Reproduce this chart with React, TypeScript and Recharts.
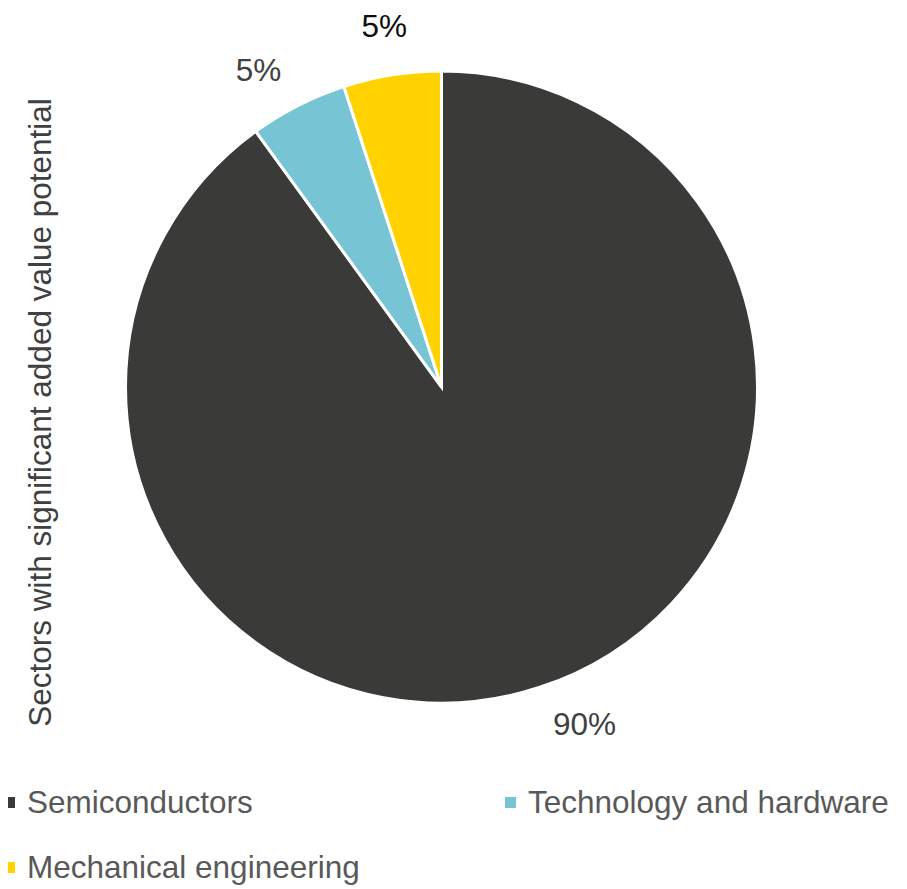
import React from "react";
import { PieChart, Pie, Cell, Legend } from "recharts";

const categories = ["Semiconductors", "Technology and hardware", "Mechanical engineering"];
const shares = [90, 5, 5];
const percentLabels = ["90%", "5%", "5%"];
const colors = ["#3a3b38", "#77c5d4", "#ffd200"];
const labelColors = ["#404040", "#404040", "#0d0d0d"];
const axisTitle = "Sectors with significant added value potential";

const data = categories.map((name, i) => ({ name, value: shares[i] }));

const FONT = "'Liberation Sans', Arial, sans-serif";
const W = 891;
const H = 881;
const RAD = Math.PI / 180;
const labelNudge = [5, 3, 0];

const renderLabel = (props: any) => {
  const { cx, cy, midAngle, outerRadius, index } = props;
  const a = (midAngle + labelNudge[index]) * RAD;
  const r = outerRadius + 50;
  const x = cx + r * Math.cos(a);
  const y = cy - r * Math.sin(a);
  return (
    <text
      x={x}
      y={y}
      textAnchor="middle"
      dominantBaseline="central"
      fontFamily={FONT}
      fontSize={31.5}
      fill={labelColors[index]}
    >
      {percentLabels[index]}
    </text>
  );
};

const legendPos = [
  { x: -4, y: 805 },
  { x: 497, y: 805 },
  { x: -4, y: 870 },
];

const renderLegend = () => (
  <svg width={W} height={H} style={{ position: "absolute", left: 0, top: 0, overflow: "visible" }}>
    {categories.map((c, i) => (
      <g key={c}>
        <rect x={legendPos[i].x} y={legendPos[i].y - 16} width={11} height={11} fill={colors[i]} />
        <text
          x={legendPos[i].x + 23}
          y={legendPos[i].y}
          fontFamily={FONT}
          fontSize={31.5}
          fill="#595959"
        >
          {c}
        </text>
      </g>
    ))}
    <text
      x={0}
      y={0}
      transform={`translate(32, 404.5) rotate(-90)`}
      textAnchor="middle"
      dominantBaseline="central"
      fontFamily={FONT}
      fontSize={31.5}
      fill="#404040"
    >
      {axisTitle}
    </text>
  </svg>
);

export default function App() {
  return (
    <div style={{ position: "relative", width: W, height: H }}>
      <PieChart width={W} height={H} margin={{ top: 0, right: 0, bottom: 0, left: 0 }}>
        <Pie
          data={data}
          dataKey="value"
          nameKey="name"
          cx={433.5}
          cy={379}
          outerRadius={316}
          startAngle={90}
          endAngle={-270}
          stroke="#ffffff"
          strokeWidth={3}
          label={renderLabel}
          labelLine={false}
          isAnimationActive={false}
        >
          {data.map((d, i) => (
            <Cell key={d.name} fill={colors[i]} />
          ))}
        </Pie>
        <Legend
          content={renderLegend}
          wrapperStyle={{ position: "absolute", left: 0, top: 0, width: W, height: H, pointerEvents: "none" }}
        />
      </PieChart>
    </div>
  );
}
